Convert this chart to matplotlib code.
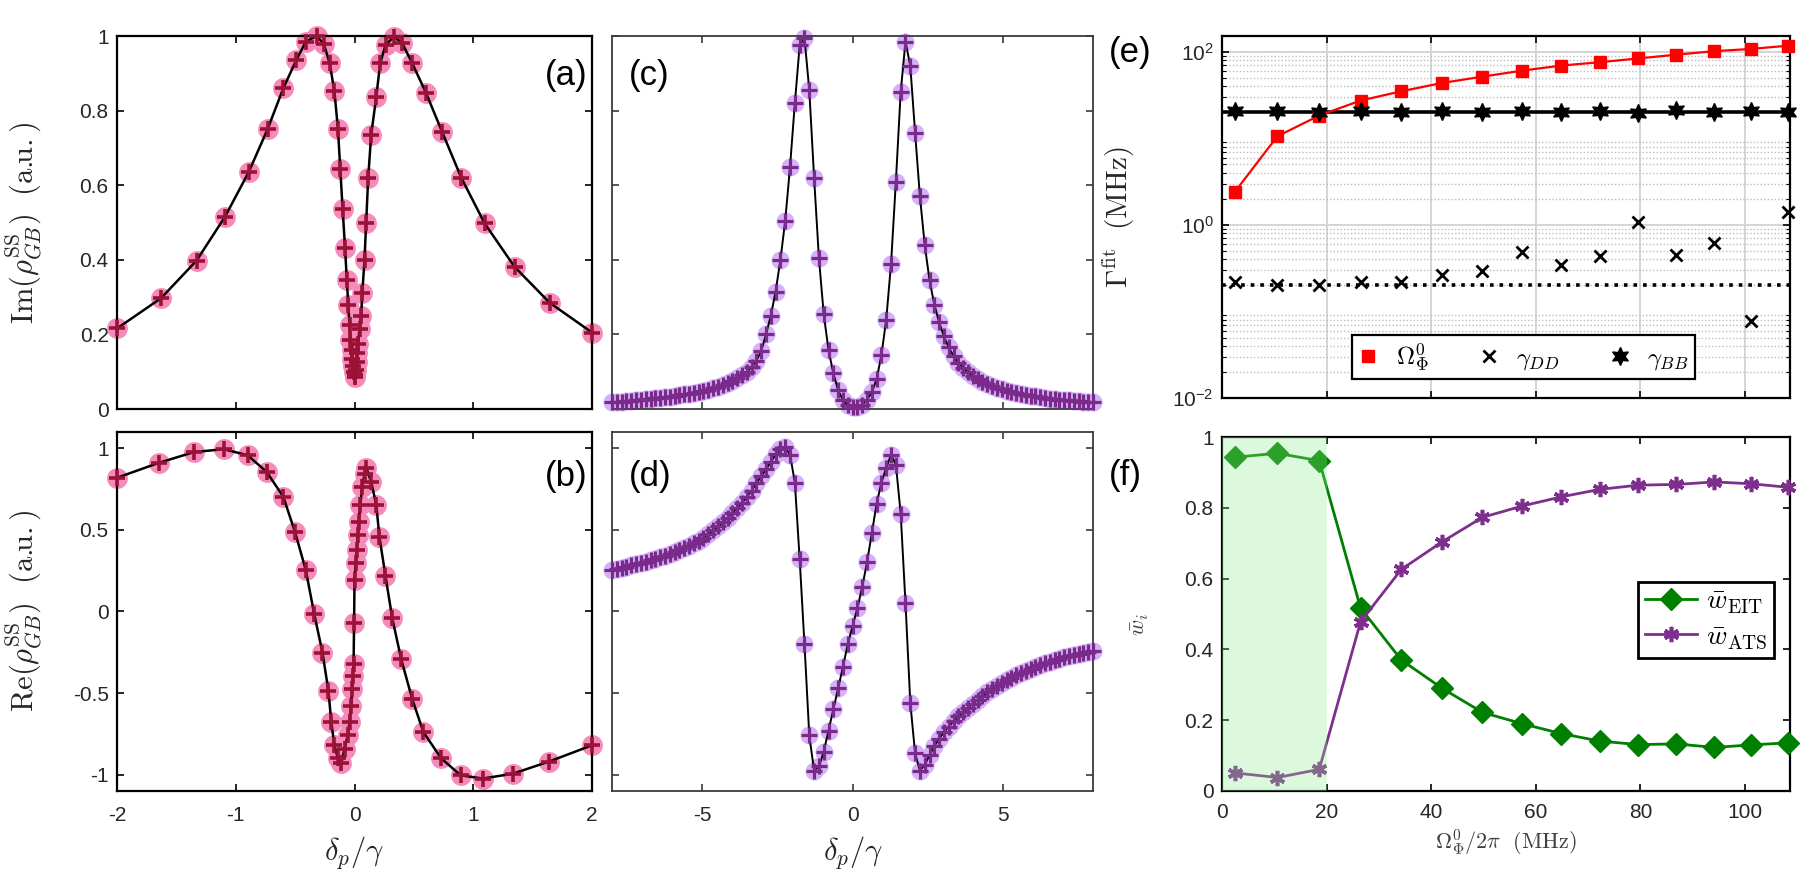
import matplotlib
matplotlib.use("Agg")
import matplotlib.pyplot as plt
from matplotlib.ticker import LogLocator, NullFormatter, FixedLocator

plt.rcParams['font.family'] = ['Liberation Sans', 'DejaVu Sans']
plt.rcParams['mathtext.fontset'] = 'cm'
plt.rcParams['axes.unicode_minus'] = False

# --- (a) Im(rho) : pink data ---
a_x = [-2.0, -1.63, -1.33, -1.09, -0.89, -0.73, -0.60, -0.49, -0.41, -0.32, -0.26, -0.21, -0.17,
       -0.14, -0.12, -0.10, -0.08, -0.065, -0.053, -0.042, -0.034, -0.025, -0.018, -0.012, -0.006,
       0.0, 0.006, 0.012, 0.018, 0.024, 0.03, 0.042, 0.056, 0.065, 0.084, 0.098, 0.115, 0.14,
       0.183, 0.216, 0.261, 0.331, 0.40, 0.486, 0.604, 0.739, 0.899, 1.095, 1.348, 1.643, 2.0]
a_y = [0.216, 0.297, 0.398, 0.516, 0.636, 0.752, 0.860, 0.936, 0.985, 1.0, 0.980, 0.928, 0.853,
       0.752, 0.643, 0.535, 0.432, 0.346, 0.279, 0.225, 0.185, 0.158, 0.135, 0.115, 0.098,
       0.085, 0.09, 0.105, 0.125, 0.15, 0.175, 0.215, 0.25, 0.31, 0.40, 0.50, 0.62, 0.735,
       0.837, 0.927, 0.976, 0.998, 0.982, 0.927, 0.846, 0.742, 0.620, 0.498, 0.381, 0.285, 0.205]

# --- (b) Re(rho) : pink data ---
b_x = [-2.0, -1.65, -1.35, -1.10, -0.90, -0.74, -0.60, -0.50, -0.41, -0.34, -0.27, -0.22, -0.196,
       -0.17, -0.14, -0.11, -0.084, -0.056, -0.042, -0.028, -0.020, -0.014, -0.008, -0.004, 0.0,
       0.010, 0.020, 0.028, 0.036, 0.048, 0.065, 0.084, 0.098, 0.14, 0.183, 0.21, 0.26, 0.317,
       0.393, 0.486, 0.58, 0.73, 0.893, 1.08, 1.334, 1.637, 2.0]
b_y = [0.819, 0.91, 0.977, 0.994, 0.957, 0.855, 0.703, 0.484, 0.252, -0.014, -0.252, -0.486, -0.675,
       -0.82, -0.90, -0.927, -0.84, -0.756, -0.675, -0.577, -0.475, -0.394, -0.32, -0.073, 0.195,
       0.297, 0.378, 0.47, 0.55, 0.652, 0.764, 0.841, 0.882, 0.795, 0.652, 0.455, 0.22, -0.039,
       -0.293, -0.537, -0.74, -0.90, -1.004, -1.024, -0.994, -0.92, -0.82]

# --- (c),(d) purple data on detuning grid ---
cd_x = [-8.00, -7.84, -7.68, -7.52, -7.36, -7.20, -7.04, -6.88, -6.72, -6.56,
        -6.40, -6.24, -6.08, -5.92, -5.76, -5.60, -5.44, -5.28, -5.12, -4.96,
        -4.80, -4.64, -4.48, -4.32, -4.16, -4.00, -3.84, -3.68, -3.52, -3.36,
        -3.20, -3.04, -2.88, -2.72, -2.56, -2.40, -2.24, -2.08, -1.92, -1.76,
        -1.60, -1.44, -1.28, -1.12, -0.96, -0.80, -0.64, -0.48, -0.32, -0.16,
        0.00, 0.16, 0.32, 0.48, 0.64, 0.80, 0.96, 1.12, 1.28, 1.44,
        1.60, 1.76, 1.92, 2.08, 2.24, 2.40, 2.56, 2.72, 2.88, 3.04,
        3.20, 3.36, 3.52, 3.68, 3.84, 4.00, 4.16, 4.32, 4.48, 4.64,
        4.80, 4.96, 5.12, 5.28, 5.44, 5.60, 5.76, 5.92, 6.08, 6.24,
        6.40, 6.56, 6.72, 6.88, 7.04, 7.20, 7.36, 7.52, 7.68, 7.84, 8.00]
c_y = [0.018, 0.019, 0.020, 0.021, 0.022, 0.023, 0.024, 0.026, 0.027, 0.029,
       0.030, 0.032, 0.033, 0.035, 0.037, 0.039, 0.041, 0.044, 0.046, 0.049,
       0.052, 0.056, 0.060, 0.064, 0.069, 0.075, 0.082, 0.091, 0.100, 0.112,
       0.130, 0.155, 0.200, 0.250, 0.315, 0.400, 0.505, 0.650, 0.820, 0.975,
       0.995, 0.855, 0.620, 0.405, 0.255, 0.158, 0.096, 0.050, 0.024, 0.010,
       0.005, 0.006, 0.012, 0.025, 0.045, 0.080, 0.145, 0.240, 0.390, 0.610,
       0.850, 0.985, 0.920, 0.740, 0.570, 0.440, 0.345, 0.280, 0.232, 0.195,
       0.165, 0.142, 0.124, 0.110, 0.098, 0.088, 0.080, 0.073, 0.067, 0.062,
       0.057, 0.053, 0.049, 0.046, 0.043, 0.040, 0.038, 0.036, 0.034, 0.032,
       0.030, 0.028, 0.027, 0.025, 0.024, 0.023, 0.022, 0.021, 0.020, 0.019, 0.018]
d_y = [0.256, 0.262, 0.268, 0.275, 0.282, 0.289, 0.297, 0.305, 0.314, 0.323,
       0.332, 0.342, 0.353, 0.364, 0.376, 0.389, 0.403, 0.418, 0.434, 0.451,
       0.475, 0.497, 0.521, 0.547, 0.575, 0.603, 0.633, 0.665, 0.700, 0.740,
       0.785, 0.828, 0.870, 0.915, 0.962, 0.995, 1.005, 0.960, 0.790, 0.320,
       -0.200, -0.760, -0.975, -0.950, -0.860, -0.730, -0.600, -0.470, -0.340, -0.200,
       -0.090, 0.020, 0.150, 0.300, 0.480, 0.660, 0.790, 0.880, 0.960, 0.900,
       0.600, 0.050, -0.560, -0.870, -0.975, -0.940, -0.880, -0.825, -0.780, -0.740,
       -0.705, -0.673, -0.643, -0.615, -0.590, -0.565, -0.540, -0.517, -0.496, -0.476,
       -0.457, -0.439, -0.422, -0.407, -0.392, -0.378, -0.365, -0.352, -0.340, -0.329,
       -0.318, -0.308, -0.299, -0.290, -0.282, -0.274, -0.267, -0.260, -0.254, -0.248, -0.242]

# --- (e),(f) vs coupling Rabi frequency ---
omega_x = [2.5, 10.6, 18.6, 26.5, 34.3, 42.1, 49.8, 57.4, 64.9, 72.2, 79.6, 86.9, 94.1, 101.1, 108.2]
omega_fit = [2.43, 10.6, 18.4, 27.4, 35.1, 43.8, 51.8, 60.8, 69.6, 76.0, 84.1, 93.0, 102.0, 108.3, 118.0]
gamma_dd = [0.221, 0.203, 0.204, 0.221, 0.217, 0.262, 0.290, 0.49, 0.348, 0.435, 1.07, 0.45, 0.614, 0.078, 1.40]
gamma_bb = [20.6, 20.5, 20.4, 20.6, 20.4, 20.5, 20.4, 20.6, 20.4, 20.5, 19.6, 21.3, 20.4, 20.5, 20.4]
gamma_bb_ref = 20.4
gamma_dd_ref = 0.2
w_eit = [0.943, 0.954, 0.933, 0.517, 0.370, 0.290, 0.222, 0.190, 0.162, 0.141, 0.131, 0.133, 0.123, 0.130, 0.136]
w_ats = [0.051, 0.038, 0.061, 0.478, 0.626, 0.704, 0.773, 0.805, 0.831, 0.852, 0.864, 0.866, 0.873, 0.868, 0.858]

ab_yticks_a = [0, 0.2, 0.4, 0.6, 0.8, 1]
ab_ylabels_a = ['0', '0.2', '0.4', '0.6', '0.8', '1']
ab_yticks_b = [-1, -0.5, 0, 0.5, 1]
ab_ylabels_b = ['-1', '-0.5', '0', '0.5', '1']
ab_xticks = [-2, -1, 0, 1, 2]
ab_xlabels = ['-2', '-1', '0', '1', '2']
cd_xticks = [-5, 0, 5]
cd_xlabels = ['-5', '0', '5']
f_xticks = [0, 20, 40, 60, 80, 100]
f_xlabels = ['0', '20', '40', '60', '80', '100']
f_yticks = [0, 0.2, 0.4, 0.6, 0.8, 1]
f_ylabels = ['0', '0.2', '0.4', '0.6', '0.8', '1']
e_yticks = [1e-2, 1, 1e2]
e_ylabels = [r'$\mathregular{10^{-2}}$', r'$\mathregular{10^{0}}$', r'$\mathregular{10^{2}}$']

PINK = '#f48bbb'
CRIMSON = '#9b1236'
LAV = '#d5b2f7'
PURP = '#7a2a8a'
GREEN = '#008000'
PURPLE = '#7e2f8e'
TXT = '#262626'


def boxstyle(ax, spine='black', lw=1.6):
    for s in ax.spines.values():
        s.set_color(spine)
        s.set_linewidth(lw)
    ax.tick_params(direction='in', top=True, right=True, length=5, width=1.2,
                   labelsize=15, labelcolor=TXT, color=spine)
    ax.tick_params(axis='x', pad=11)
    ax.tick_params(axis='y', pad=6)


fig = plt.figure(figsize=(18.2, 8.77), dpi=100)

ax_a = fig.add_axes([0.0643, 0.5336, 0.2610, 0.4253])
ax_b = fig.add_axes([0.0643, 0.0981, 0.2610, 0.4094])
ax_c = fig.add_axes([0.3363, 0.5336, 0.2643, 0.4253])
ax_d = fig.add_axes([0.3363, 0.0981, 0.2643, 0.4094])
ax_e = fig.add_axes([0.6714, 0.5462, 0.3121, 0.4128])
ax_f = fig.add_axes([0.6714, 0.0981, 0.3121, 0.4036])

# pink panels
for ax, xs, ys in [(ax_a, a_x, a_y), (ax_b, b_x, b_y)]:
    ax.plot(xs, ys, 'o', color=PINK, ms=15, mec='none', clip_on=False, zorder=2)
    ax.plot(xs, ys, '-', color='black', lw=1.8, zorder=3)
    ax.plot(xs, ys, '+', color=CRIMSON, ms=12, mew=2.6, clip_on=False, zorder=4)
    boxstyle(ax)
    ax.set_xlim(-2, 2)
    ax.set_xticks(ab_xticks)

ax_a.set_ylim(0, 1)
ax_a.set_yticks(ab_yticks_a)
ax_a.set_yticklabels(ab_ylabels_a)
ax_a.set_xticklabels([])
ax_b.set_ylim(-1.1, 1.1)
ax_b.set_yticks(ab_yticks_b)
ax_b.set_yticklabels(ab_ylabels_b)
ax_b.set_xticklabels(ab_xlabels)

ax_a.set_ylabel(r'$\mathrm{Im}(\rho_{GB}^{\mathrm{SS}})\ \ (\mathrm{a.\!\!u.})$', fontsize=22, color=TXT)
ax_a.yaxis.set_label_coords(-0.155, 0.5)
ax_b.set_ylabel(r'$\mathrm{Re}(\rho_{GB}^{\mathrm{SS}})\ \ (\mathrm{a.\!\!u.})$', fontsize=22, color=TXT)
ax_b.yaxis.set_label_coords(-0.155, 0.5)
ax_b.set_xlabel(r'$\delta_p/\gamma$', fontsize=22, color=TXT, labelpad=6)

# purple panels
for ax, ys in [(ax_c, c_y), (ax_d, d_y)]:
    ax.plot(cd_x, ys, 'o', color=LAV, ms=13, mec='none', clip_on=False, zorder=2)
    ax.plot(cd_x, ys, '-', color='black', lw=1.4, zorder=3)
    ax.plot(cd_x, ys, '+', color=PURP, ms=12, mew=2.3, clip_on=False, zorder=4)
    boxstyle(ax, spine='#3a3a3a', lw=1.3)
    ax.set_xlim(-8, 8)
    ax.set_xticks(cd_xticks)

ax_c.set_ylim(0, 1)
ax_c.set_yticks(ab_yticks_a)
ax_c.set_yticklabels([])
ax_c.set_xticklabels([])
ax_d.set_ylim(-1.1, 1.1)
ax_d.set_yticks(ab_yticks_b)
ax_d.set_yticklabels([])
ax_d.set_xticklabels(cd_xlabels)
ax_d.set_xlabel(r'$\delta_p/\gamma$', fontsize=22, color=TXT, labelpad=6)

# panel letters
ax_a.text(0.99, 0.895, '(a)', transform=ax_a.transAxes, ha='right', va='center', fontsize=25, color='black')
ax_b.text(0.99, 0.875, '(b)', transform=ax_b.transAxes, ha='right', va='center', fontsize=25, color='black')
ax_c.text(0.035, 0.895, '(c)', transform=ax_c.transAxes, ha='left', va='center', fontsize=25, color='black')
ax_d.text(0.035, 0.875, '(d)', transform=ax_d.transAxes, ha='left', va='center', fontsize=25, color='black')
fig.text(0.609, 0.94, '(e)', ha='left', va='center', fontsize=25, color='black')
fig.text(0.609, 0.458, '(f)', ha='left', va='center', fontsize=25, color='black')

# (e) fitted rates, log scale
ax_e.set_yscale('log')
ax_e.set_ylim(1e-2, 153)
ax_e.set_xlim(0, 108.6)
ax_e.axhline(gamma_bb_ref, color='black', lw=2.6, zorder=3)
ax_e.axhline(gamma_dd_ref, color='black', lw=2.6, ls=':', zorder=3)
ax_e.plot(omega_x, omega_fit, '-', color='red', lw=1.6, zorder=4)
ax_e.plot(omega_x, omega_fit, 's', color='red', ms=8, ls='none', clip_on=False, zorder=5,
          label=r'$\Omega_\Phi^0$')
ax_e.plot(omega_x, gamma_dd, 'x', color='black', ms=8.5, mew=2.0, ls='none', clip_on=False, zorder=5,
          label=r'$\gamma_{DD}$')
ax_e.plot(omega_x, gamma_bb, marker=(6, 1, 0), color='black', ms=13, ls='none', clip_on=False, zorder=5,
          label=r'$\gamma_{BB}$')
boxstyle(ax_e)
ax_e.set_xticks(f_xticks[1:])
ax_e.set_xticklabels([])
ax_e.yaxis.set_major_locator(FixedLocator(e_yticks))
ax_e.set_yticklabels(e_ylabels)
ax_e.yaxis.set_minor_locator(LogLocator(base=10, subs=[2, 3, 4, 5, 6, 7, 8, 9], numticks=20))
ax_e.yaxis.set_minor_formatter(NullFormatter())
ax_e.tick_params(which='minor', direction='in', right=True, length=3, width=0.8)
ax_e.grid(True, which='major', color='#d5d5d5', lw=1.4, ls='-')
ax_e.grid(True, which='minor', axis='y', color='#bdbdbd', lw=1.0, ls=(0, (1, 1.5)))
ax_e.set_axisbelow(True)
ax_e.set_ylabel(r'$\Gamma^{\mathrm{fit}}\ \ (\mathrm{MHz})$', fontsize=21, color=TXT)
ax_e.yaxis.set_label_coords(-0.15, 0.5)
leg_e = ax_e.legend(loc='lower left', bbox_to_anchor=(0.229, 0.052), ncol=3, fontsize=18,
                    frameon=True, fancybox=False, framealpha=1, edgecolor='black',
                    handlelength=0.8, handletextpad=0.7, columnspacing=2.0, borderpad=0.25,
                    borderaxespad=0)
leg_e.get_frame().set_linewidth(1.6)

# (f) weights
ax_f.axvspan(0, 20, color='#90ee90', alpha=0.3, lw=0, zorder=6)
ax_f.plot(omega_x, w_eit, '-', color=GREEN, lw=2.0, marker='D', ms=11, clip_on=False, zorder=3,
          label=r'$\bar{w}_{\mathrm{EIT}}$')
ax_f.plot(omega_x, w_ats, '-', color=PURPLE, lw=2.0, marker=(6, 2, 0), ms=11, mew=2.6,
          clip_on=False, zorder=4, label=r'$\bar{w}_{\mathrm{ATS}}$')
boxstyle(ax_f)
ax_f.set_xlim(0, 108.6)
ax_f.set_ylim(0, 1)
ax_f.set_xticks(f_xticks)
ax_f.set_xticklabels(f_xlabels)
ax_f.set_yticks(f_yticks)
ax_f.set_yticklabels(f_ylabels)
ax_f.tick_params(axis='x', pad=9)
ax_f.set_xlabel(r'$\Omega_\Phi^0/2\pi\ \ (\mathrm{MHz})$', fontsize=16, color='#404040', labelpad=4)
ax_f.set_ylabel(r'$\bar{w}_i$', fontsize=16, color='#404040')
ax_f.yaxis.set_label_coords(-0.125, 0.47)
leg_f = ax_f.legend(loc='lower left', bbox_to_anchor=(0.732, 0.376), fontsize=20,
                    frameon=True, fancybox=False, framealpha=1, edgecolor='black',
                    handlelength=1.9, handletextpad=0.3, borderpad=0.25, labelspacing=0.3,
                    borderaxespad=0)
leg_f.get_frame().set_linewidth(2.0)
leg_f.set_zorder(10)

fig.savefig('out.png', dpi=100)
